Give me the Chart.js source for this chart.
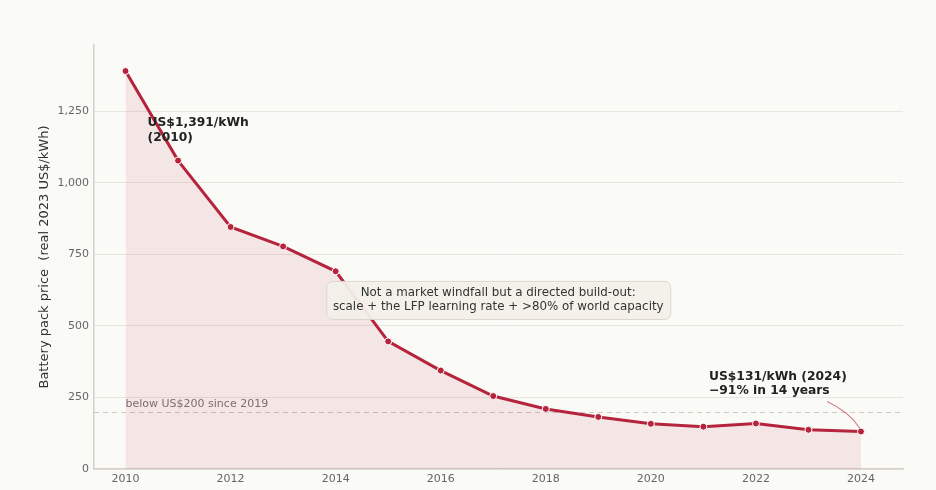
<!DOCTYPE html>
<html><head><meta charset="utf-8">
<script src="https://cdn.jsdelivr.net/npm/chart.js@4.4.1/dist/chart.umd.min.js"></script>
<style>html,body{margin:0;padding:0;background:#fafaf7;}#wrap{width:936px;height:490px;}</style>
</head><body><div id="wrap"><canvas id="c"></canvas></div>
<script>
const years = [2010,2011,2012,2013,2014,2015,2016,2017,2018,2019,2020,2021,2022,2023,2024];
const prices = [1391,1078,846,778,691,446,344,255,210,182,158,148,159,137,131];
const xTicks = [2010,2012,2014,2016,2018,2020,2022,2024];
const yTicks = [0,250,500,750,1000,1250];
const threshold = 200;

const FONT = "'DejaVu Sans', sans-serif";
const RED = '#b5243c';

const annot = {
  id: 'annot',
  beforeDatasetsDraw(chart) {
    const {ctx, chartArea: a, scales: {x, y}} = chart;
    ctx.save();
    const yy = Math.round(y.getPixelForValue(threshold)) + 0.5;
    ctx.strokeStyle = '#cfc9c2';
    ctx.lineWidth = 1;
    ctx.setLineDash([5, 4]);
    ctx.beginPath(); ctx.moveTo(a.left, yy); ctx.lineTo(a.right, yy); ctx.stroke();
    ctx.setLineDash([]);
    ctx.fillStyle = '#7a7570';
    ctx.font = '11px ' + FONT;
    ctx.textAlign = 'left'; ctx.textBaseline = 'middle';
    ctx.fillText('below US$200 since 2019', x.getPixelForValue(2010), yy - 8.5);
    ctx.restore();
  },
  afterDatasetsDraw(chart) {
    const {ctx, scales: {x, y}} = chart;
    ctx.save();
    ctx.fillStyle = '#222';
    ctx.font = 'bold 12.3px ' + FONT;
    ctx.textAlign = 'left'; ctx.textBaseline = 'middle';
    let lx = x.getPixelForValue(2010) + 22, ly = y.getPixelForValue(prices[0]) + 51.5;
    ctx.fillText('US$1,391/kWh', lx, ly);
    ctx.fillText('(2010)', lx, ly + 15);
    const px = x.getPixelForValue(2024), py = y.getPixelForValue(prices[prices.length-1]);
    ctx.fillText('US$131/kWh (2024)', px - 152, py - 55);
    ctx.fillText('\u221291% in 14 years', px - 152, py - 40.5);
    ctx.strokeStyle = '#cf7e8a';
    ctx.lineWidth = 1.2;
    ctx.beginPath();
    ctx.moveTo(px - 34, py - 30);
    ctx.quadraticCurveTo(px - 12, py - 20, px - 1, py - 3);
    ctx.stroke();
    const cx = x.getPixelForValue(2017) + 5, cy = y.getPixelForValue(591);
    const w = 344, h = 38;
    ctx.fillStyle = 'rgba(243,240,234,0.95)';
    ctx.strokeStyle = '#ddd6cc';
    ctx.lineWidth = 1;
    ctx.beginPath();
    ctx.roundRect(cx - w/2 + 0.5, cy - h/2 + 0.5, w, h, 6);
    ctx.fill(); ctx.stroke();
    ctx.fillStyle = '#333';
    ctx.font = '11.85px ' + FONT;
    ctx.textAlign = 'center';
    ctx.fillText('Not a market windfall but a directed build-out:', cx, cy - 7);
    ctx.fillText('scale + the LFP learning rate + >80% of world capacity', cx, cy + 7);
    ctx.restore();
  }
};

new Chart(document.getElementById('c'), {
  type: 'line',
  data: {
    datasets: [{
      data: years.map((yr, i) => ({x: yr, y: prices[i]})),
      borderColor: RED,
      borderWidth: 3,
      backgroundColor: 'rgba(181,36,60,0.09)',
      fill: 'origin',
      tension: 0,
      pointRadius: 3.5,
      pointBackgroundColor: RED,
      pointBorderColor: '#ffffff',
      pointBorderWidth: 1
    }]
  },
  options: {
    responsive: true,
    maintainAspectRatio: false,
    animation: false,
    layout: {padding: {top: 45, right: 33, left: 0, bottom: 0}},
    plugins: {legend: {display: false}, tooltip: {enabled: false}},
    scales: {
      x: {
        type: 'linear', min: 2009.4, max: 2024.8,
        afterBuildTicks: s => { s.ticks = xTicks.map(v => ({value: v})); },
        afterFit: s => { s.height = 21; },
        grid: {display: false, drawTicks: false},
        border: {display: true, color: '#d6d0c8', width: 1.5},
        ticks: {padding: 4, color: '#666', font: {family: FONT, size: 11}, callback: v => String(v)}
      },
      y: {
        min: 0, max: 1482,
        afterBuildTicks: s => { s.ticks = yTicks.map(v => ({value: v})); },
        afterFit: s => { s.width = 94; },
        grid: {color: '#ebe4de', drawTicks: false},
        border: {display: true, color: '#d6d0c8', width: 1.5},
        ticks: {padding: 5, color: '#666', font: {family: FONT, size: 11},
          callback: v => v.toLocaleString('en-US')},
        title: {display: true, text: 'Battery pack price  (real 2023 US$/kWh)', color: '#333',
          font: {family: FONT, size: 13}, padding: {top: 37, bottom: 0}}
      }
    }
  },
  plugins: [annot]
});
</script></body></html>
